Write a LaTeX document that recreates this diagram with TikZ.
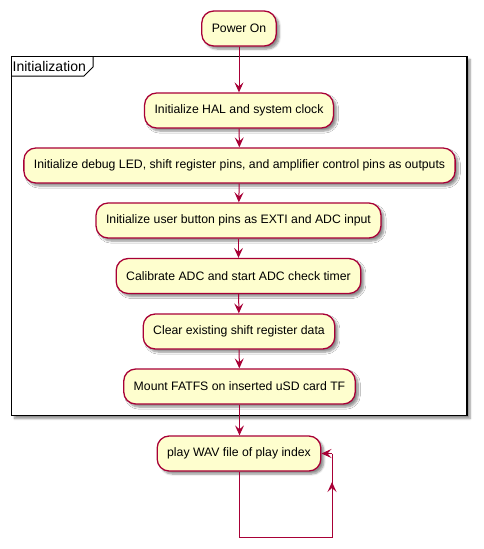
\documentclass[tikz,border=0pt]{standalone}
\usepackage{fontspec}
\setmainfont{Liberation Sans}
\usetikzlibrary{arrows.meta,shadows.blur}
\definecolor{actfill}{HTML}{FEFECE}
\definecolor{actline}{HTML}{A80036}
\tikzset{
  activity/.style={rectangle, rounded corners=12pt, draw=actline, fill=actfill,
    line width=1.3pt, minimum height=35pt, inner xsep=10pt, inner ysep=0pt,
    font=\fontsize{12.25}{14}\selectfont,
    blur shadow={shadow xshift=3pt, shadow yshift=-3pt, shadow blur steps=6, shadow opacity=45}},
  flow/.style={draw=actline, line width=1pt,
    -{Stealth[length=10pt, width=9pt, inset=4pt]}},
  plain/.style={draw=actline, line width=1pt},
  groupframe/.style={draw=black, line width=1.5pt, fill=white,
    blur shadow={shadow xshift=3pt, shadow yshift=-3pt, shadow blur steps=6, shadow opacity=45}},
}
\begin{document}
\begin{tikzpicture}[x=1pt, y=-1pt]
  \useasboundingbox (0,0) rectangle (483,549);

  % group frame with its name tab
  \path[groupframe] (11.5,56.5) rectangle (467,415.5);
  \draw[line width=1pt] (11.5,76) -- (84,76) -- (93,67) -- (93,56.5);
  \node[anchor=west, inner sep=0pt, font=\fontsize{14}{16}\selectfont] (grp) at (12.5,66.5) {Initialization};

  % activities
  \node[activity] (power) at (239,28.5) {Power On};
  \node[activity] (hal)   at (239,110.5) {Initialize HAL and system clock};
  \node[activity] (outs)  at (239.5,165.5) {Initialize debug LED, shift register pins, and amplifier control pins as outputs};
  \node[activity] (ins)   at (238.5,220.5) {Initialize user button pins as EXTI and ADC input};
  \node[activity] (adc)   at (238.5,276) {Calibrate ADC and start ADC check timer};
  \node[activity] (clr)   at (239,331.5) {Clear existing shift register data};
  \node[activity] (mount) at (239.5,386.5) {Mount FATFS on inserted uSD card TF};
  \node[activity] (play)  at (239,453.5) {play WAV file of play index};

  % sequence
  \draw[flow] (power) -- (hal);
  \draw[flow] (hal) -- (outs);
  \draw[flow] (outs) -- (ins);
  \draw[flow] (ins) -- (adc);
  \draw[flow] (adc) -- (clr);
  \draw[flow] (clr) -- (mount);
  \draw[flow] (mount.south) -- (mount.south |- play.north);

  % endless playback loop
  \coordinate (lb) at (239,537);
  \coordinate (rb) at (332,537);
  \coordinate (mid) at (332,482);
  \coordinate (rt) at (332,453.5);
  \draw[plain] (play.south) -- (lb) -- (rb) -- (rt);
  \draw[flow] (rb) -- (mid);
  \draw[flow] (rt) -- (play.east);
\end{tikzpicture}
\end{document}
